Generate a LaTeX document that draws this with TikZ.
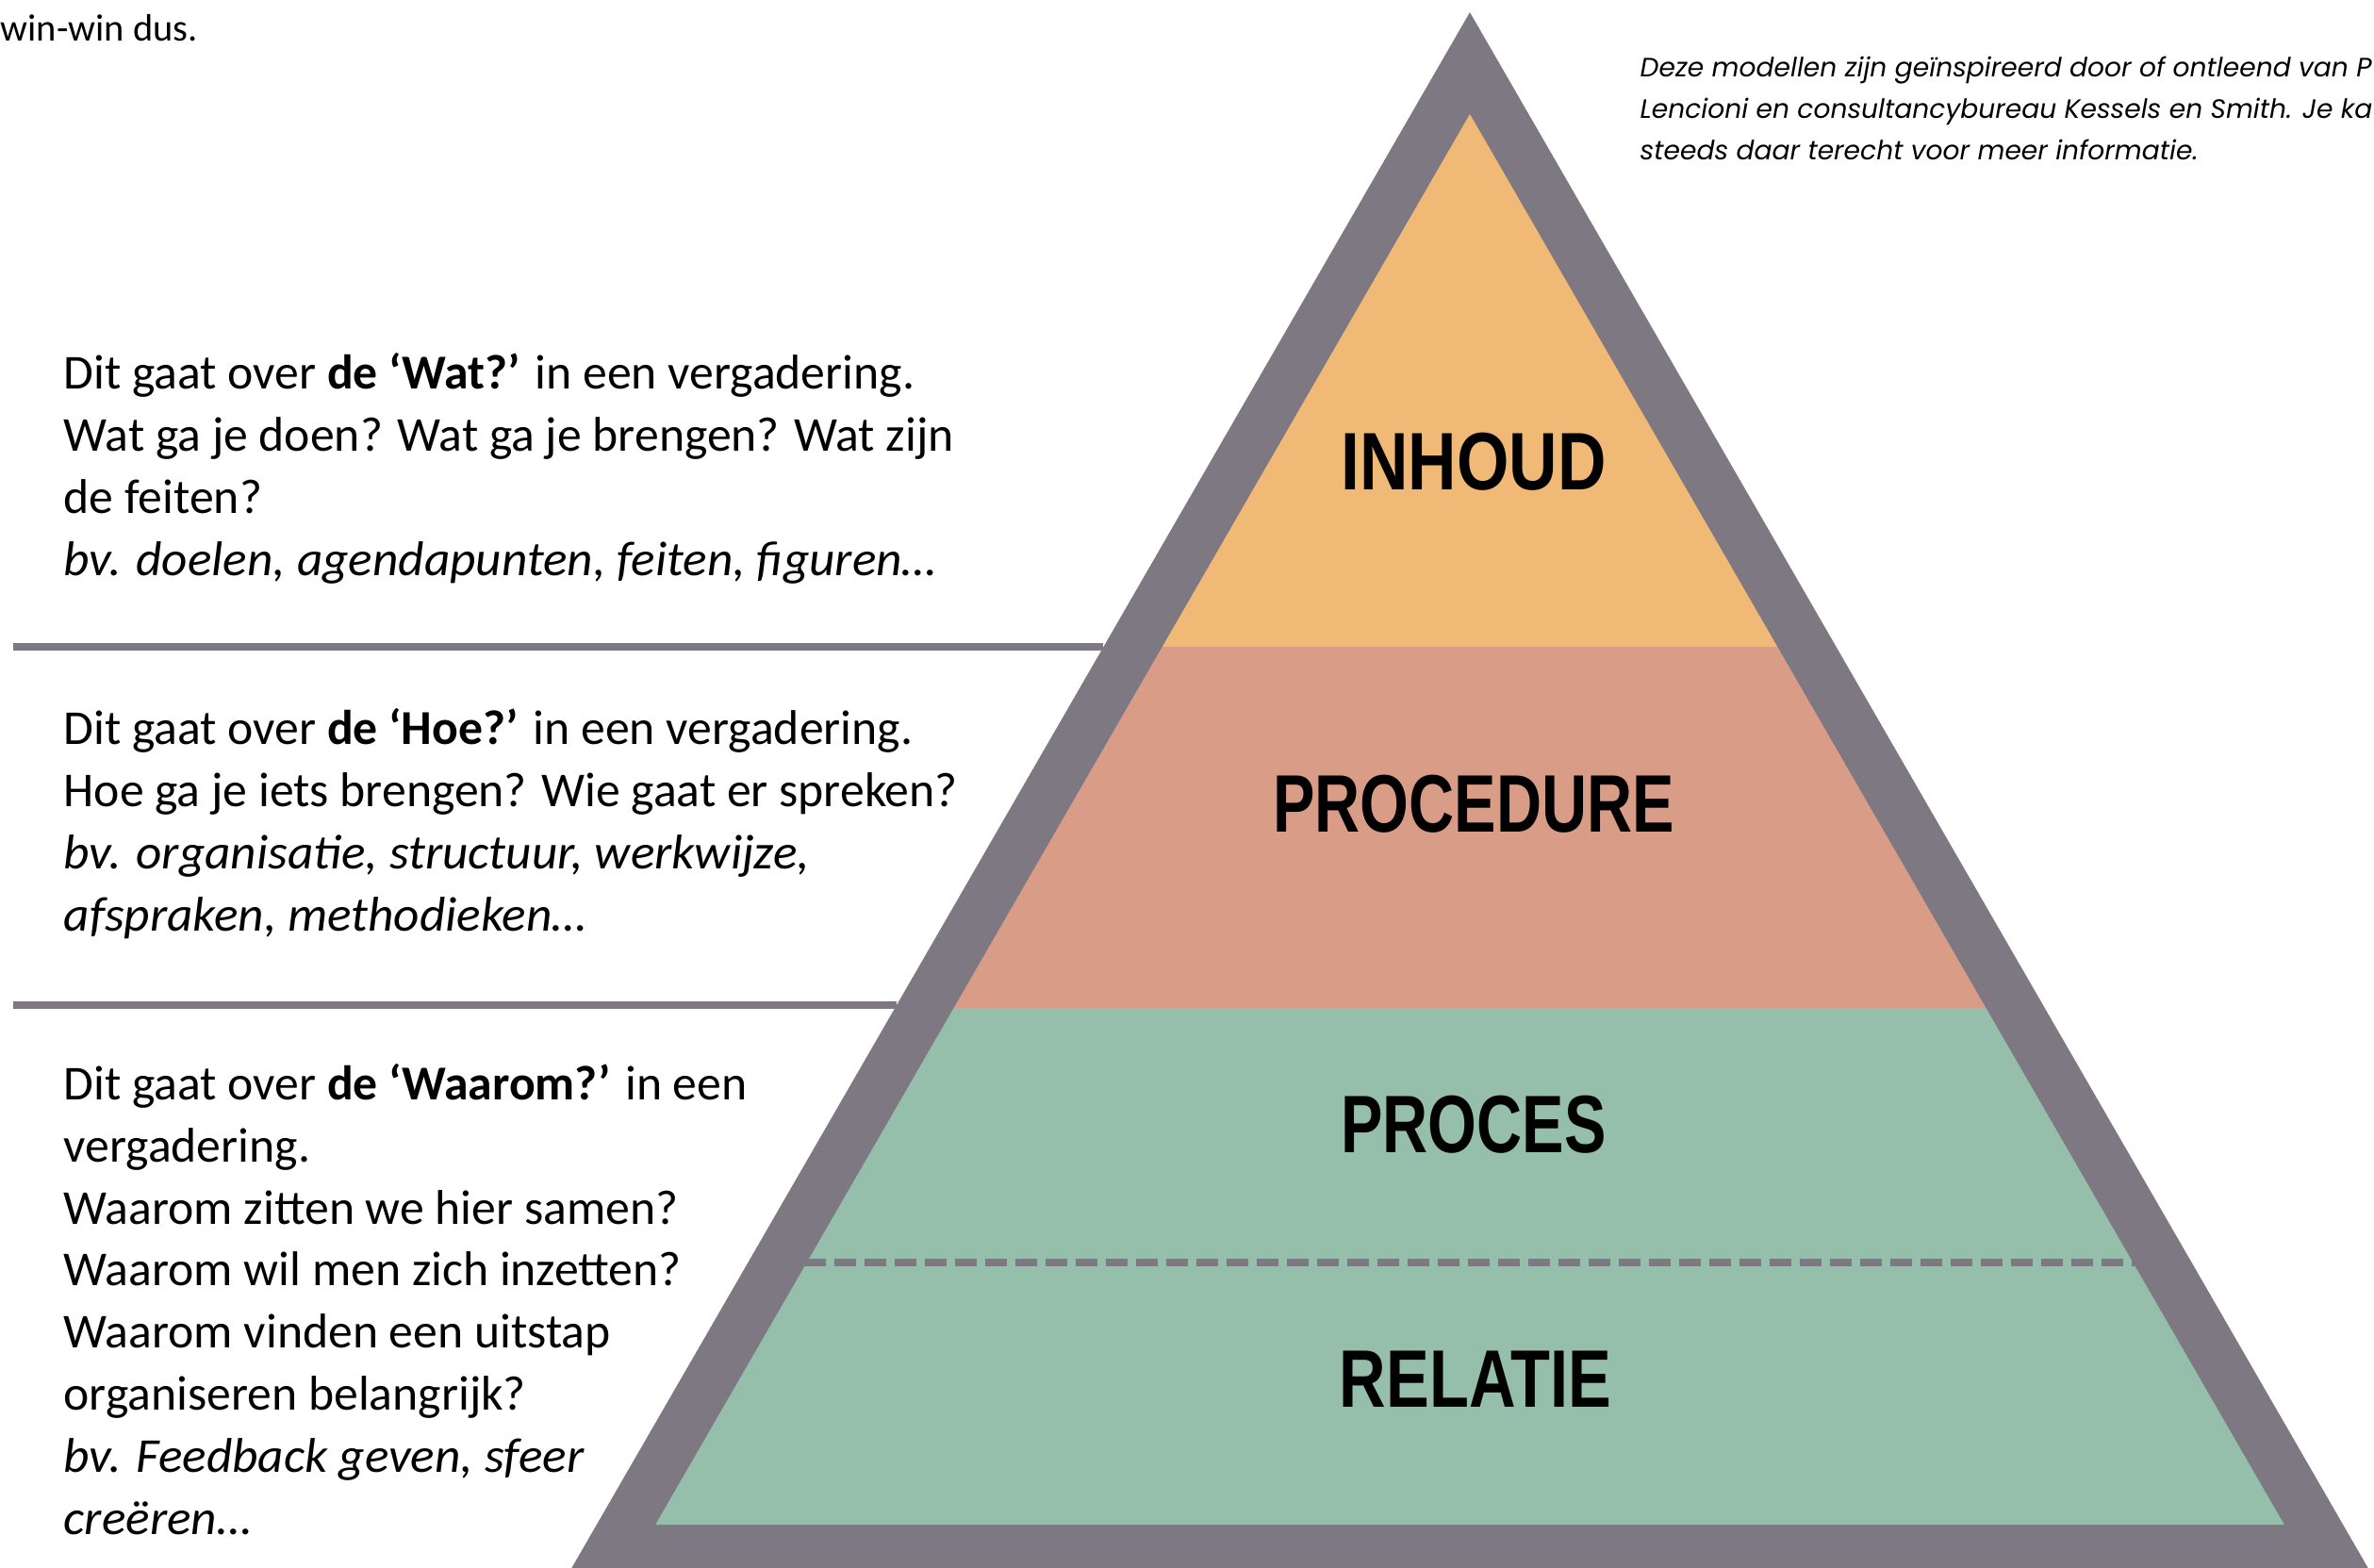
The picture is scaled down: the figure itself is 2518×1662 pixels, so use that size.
\documentclass[tikz,border=0pt]{standalone}
\usepackage{fontspec}
\setmainfont{Carlito}[ItalicFeatures={FakeStretch=1.03}]
\newfontfamily\notefont{Poppins}
\newfontfamily\headfont[FakeStretch=0.77]{Liberation Sans}
\usepackage{tikz}

\definecolor{pyrgray}{HTML}{7E7882}
\definecolor{inhoudcol}{HTML}{F0B976}
\definecolor{procedurecol}{HTML}{D99C87}
\definecolor{procescol}{HTML}{95BEAB}

\begin{document}
\begin{tikzpicture}[x=0.01cm, y=-0.01cm,
    body/.style={anchor=base west, align=left, inner sep=0pt, font=\fontsize{14.7}{18.7}\selectfont},
    head/.style={inner sep=0pt, font=\headfont\bfseries\fontsize{24.6}{24.6}\selectfont},
    sepline/.style={pyrgray, line width=2.28pt}]
        \def \tip {1559}
        \def \slope {0.5774}
        \def \itip {121} % apex of the coloured part

        \clip (0,0) rectangle (2518,1662);

        % separators on the left
        \coordinate (sepa-l) at (14,686);
        \coordinate (sepa-r) at ({\tip-\slope*(686-13)},686);
        \coordinate (sepb-l) at (14,1066);
        \coordinate (sepb-r) at ({\tip-\slope*(1066-13)},1066);
        \draw[sepline] (sepa-l) -- (sepa-r);
        \draw[sepline] (sepb-l) -- (sepb-r);

        % pyramid
        \fill[pyrgray] (\tip,13) -- ({\tip-\slope*1658},1671) -- ({\tip+\slope*1658},1671) -- cycle;
        \foreach \ya/\yb/\col in {121/686/inhoudcol, 686/1069/procedurecol, 1069/1617/procescol}{
          \fill[\col] ({\tip-\slope*(\ya-\itip)},\ya) -- ({\tip+\slope*(\ya-\itip)},\ya)
            -- ({\tip+\slope*(\yb-\itip)},\yb) -- ({\tip-\slope*(\yb-\itip)},\yb) -- cycle;
        }
        \coordinate (split-l) at ({\tip-\slope*(1339-\itip)-3},1339);
        \coordinate (split-r) at ({\tip+\slope*(1339-\itip)+3},1339);
        \draw[pyrgray, line width=2.28pt, dash pattern=on 6.5pt off 2.6pt] (split-l) -- (split-r);

        \node[head] (inhoud) at (1563,490) {\scalebox{1.07}[1]{INHOUD}};
        \node[head] (procedure) at (1563,853) {PROCEDURE};
        \node[head] (proces) at (1563,1193) {PROCES};
        \node[head] (relatie) at (1565,1463) {\scalebox{1.03}[1]{RELATIE}};

        % texts (base = last line)
        \node[anchor=base west, inner sep=0pt, font=\fontsize{11.5}{12}\selectfont] (windus) at (0,43) {win-win dus.};
        \node[anchor=base west, align=left, inner sep=0pt, font=\notefont\itshape\fontsize{8}{12.5}\selectfont] (bron) at (1739,169)
          {Deze modellen zijn geïnspireerd door of ontleend van P\\
           Lencioni en consultancybureau Kessels en Smith. Je ka\\
           steeds daar terecht voor meer informatie.};
        \node[body] (wat) at (67,610)
          {Dit gaat over \textbf{de ‘Wat?’} in een vergadering.\\
           Wat ga je doen? Wat ga je brengen? Wat zijn\\
           de feiten?\\
           \textit{bv. doelen, agendapunten, feiten, figuren…}};
        \node[body] (hoe) at (67,987)
          {Dit gaat over \textbf{de ‘Hoe?’} in een vergadering.\\
           Hoe ga je iets brengen? Wie gaat er spreken?\\
           \textit{bv. organisatie, structuur, werkwijze,}\\
           \textit{afspraken, methodieken…}};
        \node[body] (waarom) at (67,1627)
          {Dit gaat over \textbf{de ‘Waarom?’} in een\\
           vergadering.\\
           Waarom zitten we hier samen?\\
           Waarom wil men zich inzetten?\\
           Waarom vinden een uitstap\\
           organiseren belangrijk?\\
           \textit{bv. Feedback geven, sfeer}\\
           \textit{creëren…}};
\end{tikzpicture}
\end{document}
